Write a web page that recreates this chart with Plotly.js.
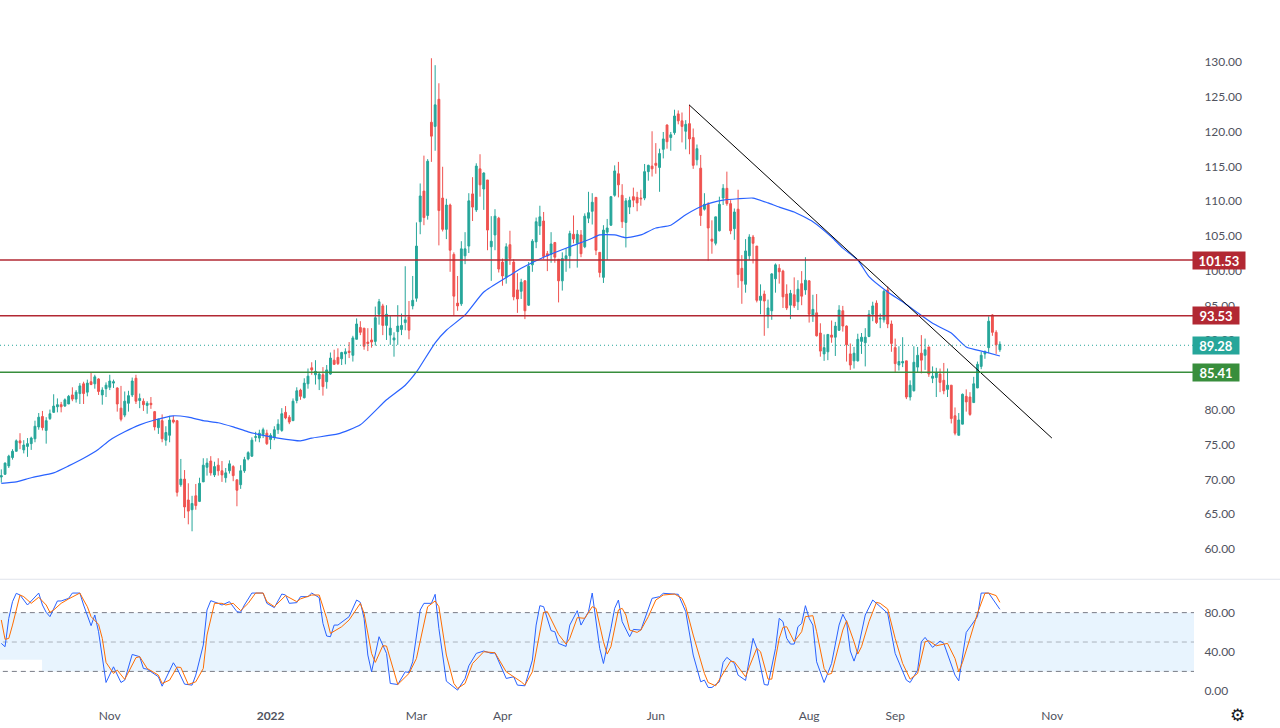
<!DOCTYPE html>
<html><head><meta charset="utf-8">
<script src="https://cdn.plot.ly/plotly-3.0.1.min.js"></script>
<style>html,body{margin:0;padding:0;background:#fff}#c{width:1280px;height:728px}</style>
</head><body><div id="c"></div>
<script>
const open=[70.2,70.6,71.8,73,73.9,75.4,74.1,74.6,75,75.7,
77.4,78.9,76.9,78.6,79.5,80.3,80.6,80.4,80.7,82,
81.4,82.2,83.6,82.4,83.9,83.6,84.3,82,82.9,83.1,
83.7,83,80.1,79.1,80.8,82,84.4,81.2,81.1,80.5,
80.8,79.6,77.3,78.3,75.5,76.2,78.4,78.3,69.1,69.9,
66.9,65.5,67.5,66.7,69.5,71.6,72.5,70.5,71.9,71.1,
70.1,71.1,71.7,69.8,69.1,71.1,72.8,73.2,75.9,75.8,
76.3,76.5,75.6,75.9,77,76.9,79.5,78.8,78.3,81.2,
82.7,81.6,83.6,85.9,84.9,84.3,84.9,83.9,85,87,
87.4,87.2,87.9,88.3,87.7,90,91.7,91.6,89.6,89.9,
89.7,93.6,94.8,92,90.6,89.9,91.1,91.4,92.4,93.2,
94.8,95.9,106.9,111.3,107.8,121.2,120.6,124.5,110.3,105.8,
109.3,102.2,95.2,95.1,102,103.4,110.9,108.6,114.5,111.6,
112.9,103.3,105,107.4,101.1,98.9,103.6,101.1,97.1,96.9,
98.4,94.9,100.7,104,106.3,107,102.3,102.2,103.9,101.5,
98.4,101.5,102,105.1,103.8,105,103.3,107.4,108.4,110.4,
102.5,98.9,105.4,106.4,110.7,113.8,110.7,106.8,109,110.5,
110.4,110.3,110.3,114.1,114.9,115.3,114.7,117.3,120.8,119,
119.7,122.4,121.4,119.9,121,119,115.8,114.6,108.7,109.4,
104.4,103.8,105.6,110.3,111.7,109.5,105.9,108.7,100.2,97.9,
102,104.7,103.4,95.6,96.5,93.4,94.1,98.7,100.2,99.8,
96.5,94.9,96.4,95.4,98,97.1,98.4,93.4,93.8,90.9,
87.9,88.2,90.6,90.3,91.3,94.1,91.9,87.9,86.9,86.9,
89.7,89.5,90.4,93.6,95.2,92.9,92.8,97.1,92.2,88.8,
86.3,86.6,86.9,81.7,82.6,86,88,87.7,88.9,84.4,
84.5,85,84.1,82.8,83.4,79,76.2,77.8,81.8,81.7,
80.9,83,86.1,87.9,88.8,93.5,91,88.5];
const close=[70.4,72.2,73.2,73.9,75.4,75.1,74.8,75,75.8,77.5,
78.8,77.3,78.3,79.3,80.4,80.6,80.3,81.3,81.8,81.4,
82.4,83.3,82.2,83.7,83.5,84.6,82.5,82.7,83.4,84,
83.9,80.7,78.5,81.1,81.9,84,81.1,81.5,80.6,80.8,
80.6,77.4,78.5,75.7,76.6,78.4,78.1,68,69.9,65.9,
65.3,66.4,66.1,69.3,71.9,72.2,70.8,71.7,71.1,70.5,
70.8,72.1,70.4,68.3,71.1,72.7,73.7,75.5,76,76.5,
77,75,76.2,77,77.8,79.3,78.7,78.1,81.1,82.6,
81.8,83.7,84.7,85.6,85.4,85,83.2,85.6,87.3,86.4,
86.5,88.1,88.2,88.1,90.2,92.2,91,89,89.4,89.6,
93.1,95.4,92,93.6,91.6,90.2,91.9,92,92.8,91.3,
95.6,103.4,110.6,107.5,115.6,119.2,123.7,108.5,105.8,109.3,
102.8,96.2,94.8,103,103,109.9,109,114.9,112.2,113.9,
105.7,104.1,107.7,100.1,99.1,103.3,101.6,96.1,95.8,98.2,
94.1,100.5,104.1,106.9,107.6,101.9,102,103.7,101.8,98.4,
101.6,102,105.2,104.4,105.1,102.3,107.7,108.2,109.7,102.8,
99.6,105.7,106,110.5,114.2,112.2,106.9,109.9,110,110,
109.6,110.2,114.1,115,114.5,115,116.7,118.8,118.4,119.4,
122.1,121.4,120.6,120.9,118.8,115,117.4,107.8,109.4,106,
104.1,107.6,109.4,111.7,109.5,105.6,108.3,99.3,98.4,102.7,
104.7,103.8,95.6,96.2,95.5,94.5,99.4,100.7,99.7,96.1,
94.5,96.6,94.8,97.2,96.2,98.5,93.6,94.3,90.5,88.3,
88.8,90.7,90.3,91.9,94.2,91.9,89.2,86.3,88,90,
90.3,90.3,93.6,94.8,92.4,93,96.9,92.2,89.4,86.5,
86.8,86.8,81.7,83.4,86.7,87.7,87,88.5,85,84.7,
85.2,83.8,82.6,83.4,78.6,76.5,78.4,82.1,81,79.2,
83.6,86.4,87.7,88.2,92.6,91,89.2,89.28];
const high=[71.3,72.3,73.4,74.2,75.6,76.5,75.5,75.8,76,78.3,
79.4,79.7,78.8,79.9,82.1,81.5,81,81.5,82,83.1,
82.7,83.7,83.9,84.2,85.2,84.9,84.4,83.1,83.8,84.9,
84.2,83.1,83.3,82.5,82.6,84.5,84.9,82.2,81.5,81.1,
81.7,79.7,78.6,79.2,77.5,79,79,78.3,72.8,71.2,
69.3,67.5,69.2,70.1,72.9,72.9,73.2,72.4,72.9,72.5,
71.5,72.6,71.9,69.8,71.9,73.1,73.9,75.9,76.7,77,
77.3,77,76.5,77.5,78.5,80.1,80.4,79.1,81.5,83.1,
82.9,84.4,85.8,86.7,87,85.3,86,86.3,88.1,88.5,
88.7,88.2,88.7,89.6,90.5,93,92.6,91.6,91.6,91.6,
94.7,95.8,95.1,94.9,93.4,91,94.9,93.7,100.5,95.5,
99.1,106.8,112.4,116.4,115.9,130.4,129.4,126.8,114.8,110.2,
109.5,102.5,99.1,104.1,105.4,111,113.3,115.3,116.6,114,
112.9,107.7,108.7,107.6,101.6,103.8,105.6,101.5,99.5,98.7,
98.5,101.1,104.4,107.5,109.2,108.3,102.7,105.4,104,101.5,
102.5,103.1,105.6,107.8,105.7,105.7,108.1,111.2,111,110.4,
102.5,106.4,107.3,110.6,115,115.5,112.3,110.3,110.5,111.8,
111.2,111.5,115.2,115.1,119.9,118.2,117.4,119.8,120.9,119.8,
123,122.9,122.6,121.5,123.7,120.3,118,116.5,111,109.7,
107.1,107.6,110.5,112.3,114.1,110,108.8,111.5,102.1,104.4,
105.1,105,103.4,97.9,97,95.7,99.5,100.9,100.8,100,
97.9,97.1,98.9,98.5,99.8,101.8,98.5,96.4,96.5,92.3,
90.7,90.7,92.7,92.5,94.9,94.8,92,89.4,88.9,90.8,
90.9,91.6,94.2,95.4,95.6,93.7,97.1,97.6,92.7,90.1,
89,90.3,86.9,84.1,89,88.9,90.6,90.1,88.9,86.1,
85.9,85.8,86.6,85.8,83.4,80.2,79.4,82.2,82.8,82.4,
84.6,86.8,88.2,88.4,93.3,93.6,91.3,89.7];
const low=[69.4,70.5,71.5,72.7,73.9,74.2,73.6,73.1,74.1,75.2,
77,76.9,75,78.4,79.4,79.5,79.5,80.3,80.7,81.1,
80.9,80.7,80.7,81.8,83.4,82.9,82,80.6,81.7,82.7,
83,79.6,78.2,78.8,79.6,81.7,80.7,80.1,79.7,79.3,
80,76.9,76.4,75.2,74.7,75.2,77.9,67.4,68.8,64.3,
63.4,62.4,65.5,66.6,69.5,70.4,70.4,70.2,70.4,69.5,
69.4,70.7,69.6,66,68.5,70.8,72.6,73.1,75.3,75.2,
75.8,74.8,74.2,75.5,76.4,76.7,78.5,77.8,78.3,80.8,
81.3,81.5,82.9,84.9,83.5,82.7,81.9,82.9,84.9,86.3,
86.3,86.3,86.4,87.3,86.8,90,90.6,88.5,88.3,88.8,
89.1,92.1,90.6,89.9,89.2,87.5,89.2,90.6,91.3,90,
94.3,95.4,105.1,106.4,107.2,115.5,117.1,103.5,105.5,104.4,
99.7,93.4,94.1,94.8,100.8,102.4,107,108.3,110.5,108.6,
102.8,98.4,102.8,99.6,97.7,98,100.7,95.6,93.8,95.8,
92.9,94.8,99.7,103.1,105,101.5,99.8,101,101,95.3,
97,99.7,100.2,103.8,100.3,101.8,103.1,106.7,106.5,102.1,
98.9,98.1,101.4,106.3,110.5,110.4,106,103.2,108,109,
108.4,109.2,110,112.8,113.4,113.8,111.2,116,117.4,117.1,
119.4,120.9,118.3,117.3,116.6,114.5,115,106.3,108.5,101.3,
102.3,103.5,105.5,109.3,109.2,105.1,104.3,97.4,95.1,96.7,
101.4,100.9,95.3,93.6,90.5,91.6,92.8,96.7,98,94.5,
94.2,92.9,94.5,94.2,94.9,96.4,92.4,92.5,90.4,87.5,
86.9,87,89.5,87.6,91.2,91.1,86.8,85.6,85.8,86.8,
87.9,86.1,90.3,92.6,92.2,91.6,92.4,91.6,88.2,85.2,
85.5,86,81.4,81.2,82.5,85.2,85.1,85.6,84.6,83.7,
81.7,82.4,82.1,81.7,77.9,76.2,76.2,77.8,79.6,79,
80.9,83,85.7,87.2,88,90.5,87.9,88.2];
const barIndex=open.map((_,i)=>i);

const maIndex=[0,4,8,14,18,22,26,29,33,37,41,46,50,54,58,62,66,70,74,80,83,90,96,103,108,111,116,119,124,129,136,139,145,152,157,160,164,167,171,175,179,183,188,193,197,201,205,208,212,217,222,225,229,232,237,241,245,249,254,258,263,267];
const maValues=[69.3,69.5,70.1,70.8,71.8,72.9,74.2,75.5,76.7,77.7,78.4,79,78.8,78.3,78,77.4,76.7,76.2,75.8,75.4,75.8,76.4,77.7,81.3,83.4,85.3,89.5,91.3,93.5,96.8,99.2,100.2,101.8,103.3,104.3,105,105,104.6,105,106,106.4,107.9,109.3,110,110.2,110.3,109.6,109,108.3,106.9,104.7,103.1,101.4,99,96.8,95.4,93.8,92.3,90.9,88.9,88.2,87.6];
const trendIndex=[183.9,280.9];
const trendValues=[123.7,75.8];

const kIndex=[0,1,2,3,4,5,7,10,11,12,13,15,16,18,19,21,22,24,25,26,28,30,32,33,35,37,38,39,42,43,46,47,49,51,52,54,55,56,58,59,61,63,64,65,67,70,71,73,75,76,77,79,80,82,83,85,86,87,88,89,90,93,95,96,97,98,99,101,103,104,106,108,109,110,112,113,115,116,117,119,122,124,125,127,129,131,132,134,135,137,138,
140,142,143,144,145,147,148,149,151,152,154,155,157,158,160,161,163,164,165,166,168,169,171,173,174,176,177,181,183,185,187,188,189,190,192,193,194,196,197,199,201,202,204,205,207,208,209,210,211,212,213,214,215,216,217,218,220,222,224,225,226,227,228,229,231,233,235,237,239,241,242,243,245,246,247,249,251,252,254,255,256,258,261,262,264,265,267];
const kValues=[48.6,45.2,74.2,91.2,99.7,98,87.8,100,87.8,80.3,75.9,91.9,91.9,94.6,100,100,87.8,66.7,77.6,60.5,8.7,24.7,8.7,11.1,37.3,35,23,22.3,14.5,4.9,28.8,23,7,6,16.2,46.9,82.7,92.2,89.5,87.8,91.2,81,80.3,87.8,100,100,89.5,85.1,99,98,89.5,90.2,96.3,96.3,100,95.3,69,56.1,55.4,67.3,67.3,75.9,92.9,90.5,74.2,36.7,19.6,55.4,38.4,7.7,6.6,19.6,18.9,29.8,82.7,89.5,89.5,98.7,63.9,10,0.9,12.8,25.7,38.4,40.8,38.4,39,21.3,12.8,14.5,6,
5.3,31.5,67.3,87.1,86.1,61.6,60.5,48.6,45.5,67.3,82,67.3,81,100,43.5,28.1,63.9,84.4,92.9,70.8,55.4,62.9,62.2,84.4,94.6,96.3,99.7,98.7,81,36.7,9.4,11.1,3.6,3.6,9.4,29.2,34.3,28.1,16.2,10.8,53.7,43.5,6.6,6,43.5,74.2,70.8,53.7,47.9,47.9,65.6,69,87.1,74.2,67.3,29.8,8.7,28.1,67.3,78.3,70.8,40.8,30.5,41.8,77.6,92.9,86.1,79.3,38.4,21.3,11.1,8.7,21.3,50.3,54.7,44.5,51,48.6,28.1,16.2,10.4,59.8,75.9,100,100,94.6,83.4];
const dIndex=[0,1,2,3,5,6,8,10,12,13,14,16,18,21,22,23,24,26,27,28,30,31,33,34,36,37,39,42,43,45,47,48,50,52,54,55,57,59,60,62,64,66,68,70,71,73,76,79,80,83,85,87,88,91,93,96,97,99,100,102,103,106,109,111,114,116,117,119,121,122,124,126,129,132,135,139,
140,142,145,146,149,151,152,154,156,158,159,161,162,163,165,166,167,168,170,171,173,175,177,180,182,183,185,188,189,191,193,195,196,199,200,202,203,205,206,208,209,210,212,214,215,217,218,220,221,222,225,226,228,229,230,232,234,235,237,239,241,243,245,247,248,250,253,255,256,257,259,261,263,264,266,267];
const dValues=[72.5,52.7,53.7,67.3,98,96.3,89.5,95.7,87.8,80.3,82.7,89.5,94,100,92.9,86.1,75.9,68,53.7,29.2,17.9,21.3,11.8,19.6,34,35,23,16.2,7.7,11.1,24.4,24,6.6,9.4,23,57.1,89.5,89.5,87.8,89.5,82,89.5,100,100,91.2,86.1,97.4,91.2,94,98,98,74.2,58.8,65.6,72.5,89.5,79.3,38.4,29.2,46.2,45.9,6.6,17.9,33.2,86.1,91.9,86.1,36.7,7.7,2.6,7.7,28.1,40.1,39,19.6,9.4,
6,19.6,80.3,81,57.8,47.9,53.7,74.9,74.2,86.1,84.4,50.3,37.7,45.2,82.7,84.4,77.6,62.2,59.8,62.2,75.9,92.9,98,99,94.6,86.1,57.1,17.9,8.7,5.3,17.9,30.5,29.8,14.5,24.7,43.5,40.1,12.1,12.1,53.7,65,65.6,50.3,60.5,75.9,76.9,60.5,23,16.9,17.9,62.2,71.8,50.3,37.7,45.2,70.8,90.5,89.5,83.7,53.7,28.1,12.1,17.9,50.3,51.3,46.2,48.6,33.2,19.6,29.2,53.7,79.3,99.7,100,97.4,90.5];

const priceTicks=[60,65,70,75,80,85,90,95,100,105,110,115,120,125,130];
const oscTicks=[0,40,80];
const oscLevels=[80,50,20];
const timeTickIndex=[29,72,111,134,175,216,239,281];
const timeTickLabels=['Nov','<b>2022</b>','Mar','Apr','Jun','Aug','Sep','Nov'];
const levelValues=[101.53,93.53,85.41];
const levelLabels=['101.53','93.53','85.41'];
const lastPrice=89.28;
const lastLabel='89.28';

const UP='#26a69a',DOWN='#ef5350',RED='#b22833',GREEN='#388e3c';
const FONT='Lato, "Open Sans", sans-serif';
const readCal=v=>v+0.14; // readings were taken against the tick-label centre, 1px above the true scale

const traces=[
 {type:'candlestick',x:barIndex,open:open.map(readCal),high:high.map(readCal),low:low.map(readCal),close:close.map(readCal),xaxis:'x',yaxis:'y',
  whiskerwidth:0,
  increasing:{line:{color:UP,width:1},fillcolor:UP},decreasing:{line:{color:DOWN,width:1},fillcolor:DOWN},hoverinfo:'skip'},
 {type:'scatter',mode:'lines',x:maIndex,y:maValues.map(readCal),xaxis:'x',yaxis:'y',line:{color:'#2962ff',width:1.2,shape:'spline',smoothing:0.5},hoverinfo:'skip'},
 {type:'scatter',mode:'lines',x:trendIndex,y:trendValues.map(readCal),xaxis:'x',yaxis:'y',line:{color:'#000000',width:1},hoverinfo:'skip'},
 {type:'scatter',mode:'lines',x:kIndex,y:kValues,xaxis:'x2',yaxis:'y2',line:{color:'#2962ff',width:1},hoverinfo:'skip'},
 {type:'scatter',mode:'lines',x:dIndex,y:dValues,xaxis:'x2',yaxis:'y2',line:{color:'#ff6d00',width:1},hoverinfo:'skip'}
];

const shapes=[
 {type:'rect',xref:'x2',yref:'y2',x0:-2,x1:320,y0:20,y1:80,fillcolor:'rgba(33,150,243,0.1)',line:{width:0},layer:'below'},
 {type:'rect',xref:'x2',yref:'y2',x0:-2,x1:10.9,y0:20,y1:32,fillcolor:'#ffffff',line:{width:0},layer:'below'},
 {type:'line',xref:'paper',yref:'paper',x0:0,x1:1280/1194,y0:0.1725,y1:0.1725,line:{color:'#e0e3eb',width:1}}
];
oscLevels.forEach((v,i)=>shapes.push({type:'line',xref:'x2',yref:'y2',x0:-2,x1:320,y0:v,y1:v,
  line:{color:i===1?'rgba(120,123,134,0.55)':'#787b86',width:1,dash:'5px,4px'},layer:'below'}));
levelValues.forEach((v,i)=>shapes.push({type:'line',xref:'paper',yref:'y',x0:0,x1:1,y0:v,y1:v,
  line:{color:i===2?GREEN:RED,width:1.4}}));
shapes.push({type:'line',xref:'paper',yref:'y',x0:0,x1:1,y0:lastPrice,y1:lastPrice,line:{color:UP,width:1,dash:'1px,3px'}});

const box=(val,txt,col,w)=>({xref:'paper',yref:'y',x:1,y:val,xanchor:'left',yanchor:'middle',xshift:-2,text:'<b>'+txt+'</b>',showarrow:false,
  bgcolor:col,width:w,height:15,borderpad:1,align:'center',font:{family:FONT,size:13,color:'#ffffff'}});
const annotations=[
 box(levelValues[0],levelLabels[0],RED,50),
 box(levelValues[1],levelLabels[1],RED,44),
 box(lastPrice,lastLabel,UP,44),
 box(levelValues[2],levelLabels[2],GREEN,44),
 {xref:'paper',yref:'paper',x:1237/1194,y:-15/700,xanchor:'center',yanchor:'middle',text:'⚙',showarrow:false,font:{family:'DejaVu Sans',size:17,color:'#131722'}}
];

const layout={
 width:1280,height:728,paper_bgcolor:'#fff',plot_bgcolor:'#fff',showlegend:false,
 margin:{l:0,r:86,t:0,b:28,pad:0},
 font:{family:FONT,size:12,color:'#50535e'},
 xaxis:{domain:[0,1],range:[-0.35,318.9],anchor:'y',showticklabels:false,showgrid:false,zeroline:false,showline:false,ticks:'',rangeslider:{visible:false}},
 xaxis2:{domain:[0,1],range:[-0.35,318.9],anchor:'y2',tickmode:'array',tickvals:timeTickIndex,ticktext:timeTickLabels,showgrid:false,zeroline:false,showline:false,ticks:'outside',ticklen:5,tickcolor:'rgba(0,0,0,0)',tickfont:{family:FONT,size:12,color:'#50535e'}},
 yaxis:{domain:[0.1729,1],range:[130-517/6.957,130+62/6.957],side:'right',anchor:'x',tickmode:'array',tickvals:priceTicks,ticktext:priceTicks.map(v=>v.toFixed(2)),showgrid:false,zeroline:false,showline:false,ticks:'outside',ticklen:7,tickcolor:'rgba(0,0,0,0)',tickfont:{family:FONT,size:12,color:'#50535e'}},
 yaxis2:{domain:[0,0.1714],range:[-9.2,113.3],side:'right',anchor:'x2',tickmode:'array',tickvals:oscTicks,ticktext:oscTicks.map(v=>v.toFixed(2)),showgrid:false,zeroline:false,showline:false,ticks:'outside',ticklen:7,tickcolor:'rgba(0,0,0,0)',tickfont:{family:FONT,size:12,color:'#50535e'}},
 shapes:shapes,annotations:annotations
};
Plotly.newPlot('c',traces,layout,{displayModeBar:false,staticPlot:true});
</script></body></html>
